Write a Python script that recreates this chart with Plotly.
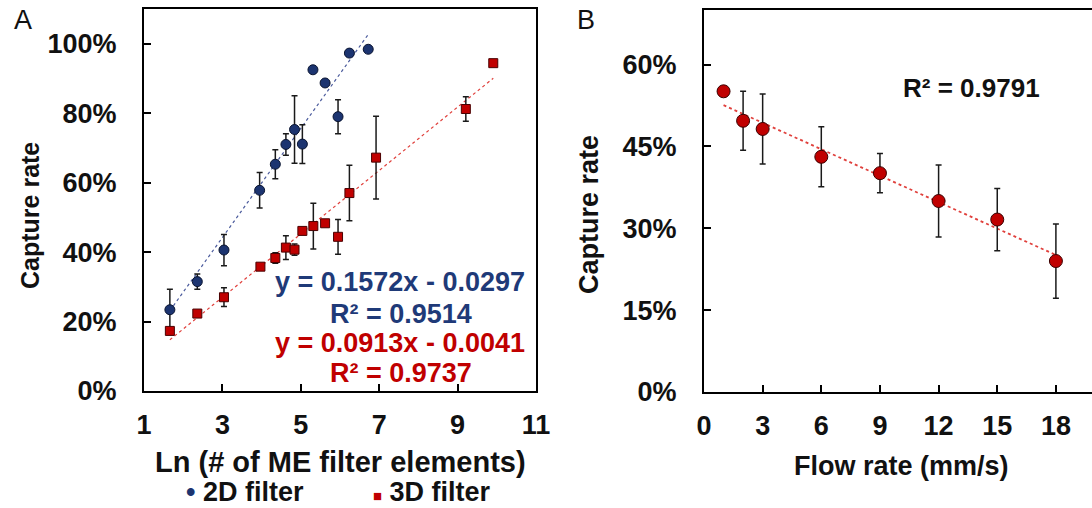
import numpy as np
import plotly.graph_objects as go

# ---- Panel A: capture rate vs ln(number of ME filter elements) ----
ln_2d = [1.66, 2.36, 3.04, 3.95, 4.35, 4.62, 4.84, 5.04, 5.31, 5.62, 5.95, 6.24, 6.72]
rate_2d = [0.234, 0.315, 0.406, 0.578, 0.653, 0.710, 0.753, 0.711, 0.925, 0.887, 0.790, 0.973, 0.984]
err_2d = [0.059, 0.022, 0.045, 0.051, 0.042, 0.031, 0.097, 0.056, None, None, 0.049, None, None]

ln_3d = [1.66, 2.36, 3.04, 3.97, 4.35, 4.62, 4.84, 5.04, 5.32, 5.62, 5.95, 6.24, 6.92, 9.21, 9.91]
rate_3d = [0.173, 0.223, 0.270, 0.358, 0.383, 0.413, 0.407, 0.461, 0.475, 0.483, 0.444, 0.570, 0.672, 0.812, 0.944]
err_3d = [None, 0.008, 0.027, None, 0.015, 0.034, 0.016, None, 0.066, None, 0.050, 0.080, 0.119, 0.035, None]

# linear trendlines (slope, intercept) as reported on the chart
fit_2d = (0.1572, -0.0297)
fit_3d = (0.0913, -0.0041)
r2_2d = "0.9514"
r2_3d = "0.9737"

# ---- Panel B: capture rate vs flow rate ----
flow = [1, 2, 3, 6, 9, 12, 15, 18]
rate_flow = [0.551, 0.497, 0.482, 0.431, 0.401, 0.350, 0.316, 0.240]
err_flow = [None, 0.054, 0.064, 0.055, 0.036, 0.066, 0.057, 0.068]
r2_flow = "0.9791"

W, H = 1092, 508
FONT = "Liberation Sans, Arial, sans-serif"
BLUE = "#1f3a78"
RED = "#c00000"
NAVY_MARK = "#1c3470"


def px_x(p):
    return p / W


def px_y(p):
    return (H - p) / H


fig = go.Figure()

err_style = dict(type="data", color="#1a1a1a", thickness=1.5, width=3)


def trend(xs, fit):
    xx = np.array([min(xs), max(xs)])
    return xx, fit[0] * xx + fit[1]


# dotted trendlines for panel A
tx, ty = trend(ln_2d, fit_2d)
fig.add_trace(go.Scatter(x=tx, y=ty, mode="lines", showlegend=False, hoverinfo="skip",
                         line=dict(color="#4a5a9c", width=1.2, dash="dot"), xaxis="x", yaxis="y"))
tx, ty = trend(ln_3d, fit_3d)
fig.add_trace(go.Scatter(x=tx, y=ty, mode="lines", showlegend=False, hoverinfo="skip",
                         line=dict(color="#e0403c", width=1.2, dash="dot"), xaxis="x", yaxis="y"))

fig.add_trace(go.Scatter(
    x=ln_2d, y=rate_2d, mode="markers", name="2D filter", showlegend=False,
    error_y=dict(array=err_2d, **err_style),
    marker=dict(symbol="circle", size=10, color=NAVY_MARK, line=dict(color="#0a1430", width=1)),
    xaxis="x", yaxis="y"))
fig.add_trace(go.Scatter(
    x=ln_3d, y=rate_3d, mode="markers", name="3D filter", showlegend=False,
    error_y=dict(array=err_3d, **err_style),
    marker=dict(symbol="square", size=9, color=RED, line=dict(color="#4a0000", width=1)),
    xaxis="x", yaxis="y"))

# Panel B trendline fitted to the measurements
k, b = np.polyfit(flow, rate_flow, 1)
fx = np.array([flow[0], flow[-1]])
fig.add_trace(go.Scatter(x=fx, y=k * fx + b, mode="lines", showlegend=False, hoverinfo="skip",
                         line=dict(color="#e0403c", width=1.8, dash="dot"), xaxis="x2", yaxis="y2"))
fig.add_trace(go.Scatter(
    x=flow, y=rate_flow, mode="markers", showlegend=False,
    error_y=dict(array=err_flow, **err_style),
    marker=dict(symbol="circle", size=13, color=RED, line=dict(color="#3a0000", width=1)),
    xaxis="x2", yaxis="y2"))

tickfont = dict(family=FONT, size=27, color="#111", weight="bold")
axis_common = dict(showline=True, linecolor="black", linewidth=2, ticks="inside", ticklen=7,
                   tickwidth=2, tickcolor="black", showgrid=False, zeroline=False,
                   tickfont=tickfont, fixedrange=True, automargin=False)

fig.update_layout(
    template="none",
    width=W, height=H, margin=dict(l=0, r=0, t=0, b=0, pad=0),
    paper_bgcolor="white", plot_bgcolor="white", showlegend=False,
    xaxis=dict(domain=[px_x(144), px_x(536)], range=[1, 11], tick0=1, dtick=2,
               mirror=True, anchor="y", ticklabelstandoff=9, **axis_common),
    yaxis=dict(domain=[px_y(391), px_y(9)], range=[0, 1.1], dtick=0.2, tickformat=".0%",
               mirror=True, anchor="x", ticklabelstandoff=20, **axis_common),
    xaxis2=dict(domain=[px_x(704), 1.0], range=[0, (W - 704) / 19.55], tick0=0, dtick=3,
                mirror=True, anchor="y2", ticklabelstandoff=9, **axis_common),
    yaxis2=dict(domain=[px_y(392), px_y(10)], range=[0, 0.7], dtick=0.15, tickformat=".0%",
                mirror=False, anchor="x2", ticklabelstandoff=20, **axis_common),
)


def note(text, x, y, size=26, color="#111", weight="bold", angle=0, xanchor="center"):
    fig.add_annotation(text=text, x=px_x(x), y=px_y(y), xref="paper", yref="paper",
                       showarrow=False, textangle=angle, xanchor=xanchor, yanchor="middle",
                       font=dict(family=FONT, size=size, color=color, weight=weight))


# panel letters
note("A", 23, 20, size=27, weight="normal")
note("B", 586, 20, size=27, weight="normal")

# axis titles
note("Capture rate", 30, 216, size=25, angle=-90)
note("Ln (# of ME filter elements)", 340, 462, size=29)
note("Capture rate", 589, 215, size=27, angle=-90)
note("Flow rate (mm/s)", 901, 466, size=27)

# legend for panel A
note(f"<span style='color:{NAVY_MARK}'>•</span> 2D filter", 184, 492, size=27, xanchor="left")
note(f"<span style='color:{RED};font-size:15px'>■</span> 3D filter", 371, 492, size=27, xanchor="left")

# regression labels
note(f"y = {fit_2d[0]:.4f}x - {abs(fit_2d[1]):.4f}", 400, 282, size=27, color=BLUE)
note(f"R² = {r2_2d}", 401, 313.5, size=27, color=BLUE)
note(f"y = {fit_3d[0]:.4f}x - {abs(fit_3d[1]):.4f}", 400, 343, size=27, color=RED)
note(f"R² = {r2_3d}", 401, 372.5, size=27, color=RED)
note(f"R² = {r2_flow}", 972, 88, size=26)

fig.write_html("out.html")
